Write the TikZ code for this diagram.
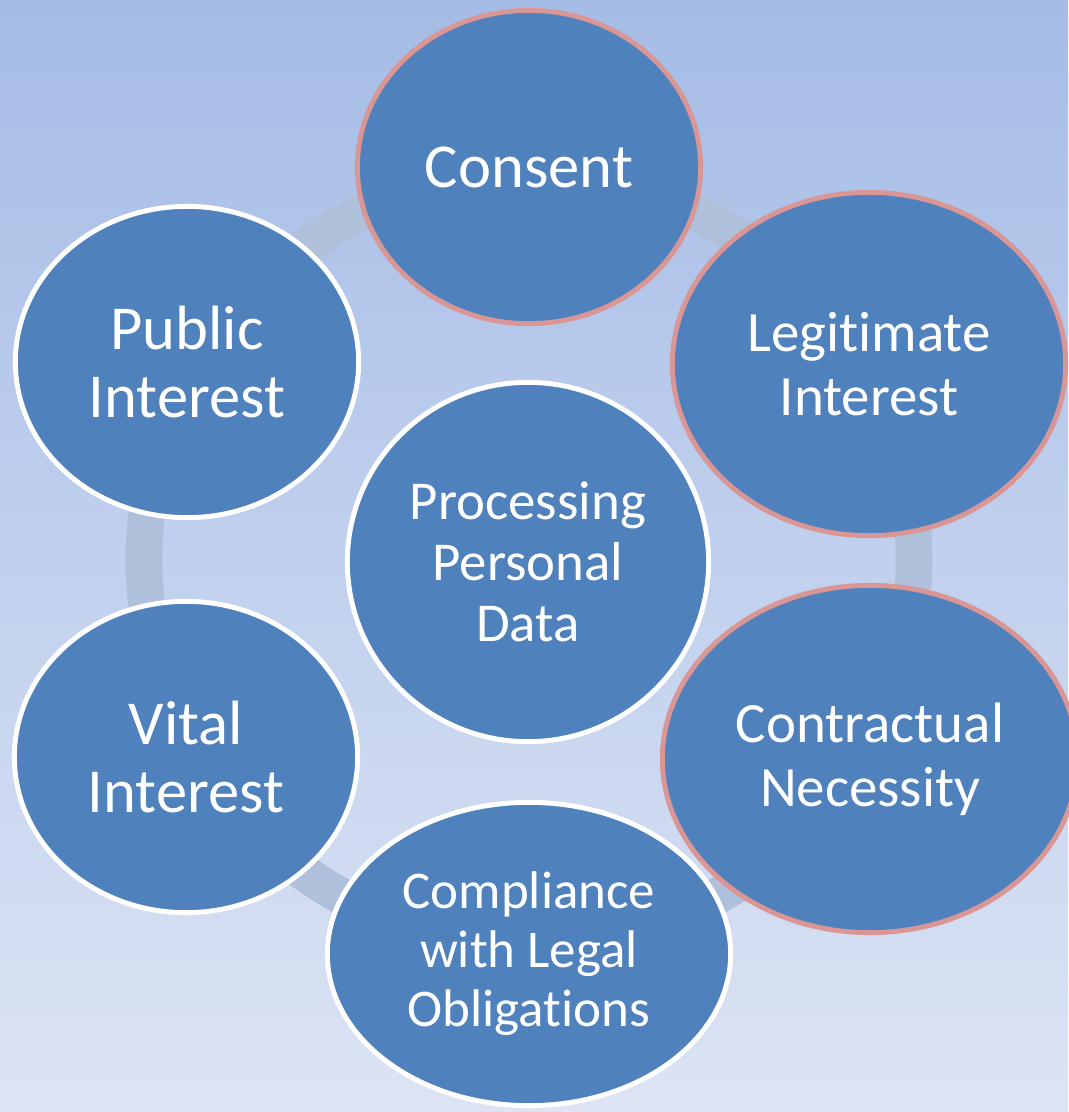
\documentclass[tikz,border=0pt]{standalone}
\usepackage{fontspec}
\setmainfont{Carlito}[Ligatures=NoCommon]
\usetikzlibrary{shapes.geometric}
\definecolor{bgtop}{RGB}{165,188,230}
\definecolor{bgbottom}{RGB}{220,228,244}
\definecolor{ringgray}{RGB}{175,192,219}
\definecolor{basisblue}{RGB}{79,129,189}
\definecolor{rosered}{RGB}{217,150,148}

\begin{document}
\begin{tikzpicture}[x=0.025cm,y=-0.025cm,
  basis/.style={ellipse,fill=basisblue,text=white,align=center,inner sep=0pt,line width=3.5pt},
  big/.style={font=\fontsize{44.5}{47.7}\selectfont},
  mid/.style={font=\fontsize{40.5}{45.5}\selectfont}]
\shade[top color=bgtop,bottom color=bgbottom] (0,0) rectangle (1068,1112);
\useasboundingbox (0,0) rectangle (1068,1112);
\draw[ringgray,line width=26pt] (529,560) circle (385);
\node[basis,draw=rosered,big,minimum width=8.58cm,minimum height=7.83cm] (consent) at (529,167) {Consent};
\node[basis,draw=rosered,mid,minimum width=9.83cm,minimum height=8.58cm] (legit) at (869,364) {Legitimate\\Interest};
\node[basis,draw=rosered,mid,minimum width=10.38cm,minimum height=8.68cm] (contract) at (870,759) {Contractual\\Necessity};
\node[basis,draw=white,font=\fontsize{37.7}{42}\selectfont,minimum width=10.08cm,minimum height=7.58cm] (legal) at (529,954) {Compliance\\with Legal\\Obligations};
\node[basis,draw=white,big,minimum width=8.58cm,minimum height=7.78cm] (vital) at (186,757) {Vital\\Interest};
\node[basis,draw=white,big,minimum width=8.58cm,minimum height=7.78cm] (public) at (187,362) {Public\\Interest};
\node[basis,draw=white,font=\fontsize{39}{43.4}\selectfont,minimum width=9.03cm,minimum height=8.98cm] (data) at (528,562) {Processing\\Personal\\Data};
\end{tikzpicture}
\end{document}
